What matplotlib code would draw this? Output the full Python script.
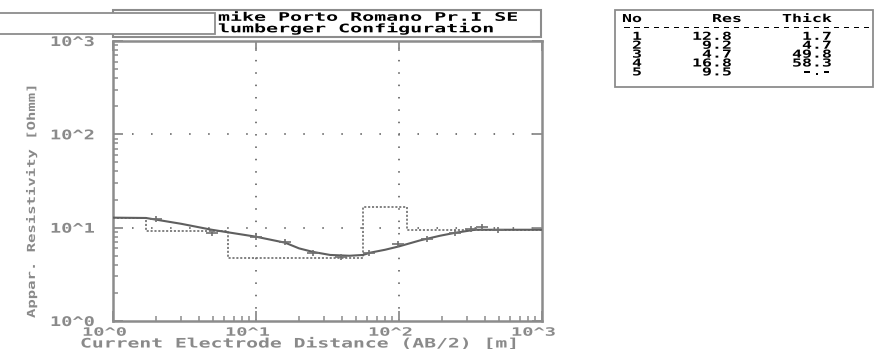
import numpy as np
import matplotlib
matplotlib.use("Agg")
import matplotlib.pyplot as plt
from matplotlib.patches import Rectangle
from matplotlib.path import Path
from matplotlib.transforms import Affine2D, ScaledTranslation
from matplotlib import patheffects

# measured sounding (AB/2 [m], apparent resistivity)
ab2_meas = [2.0, 4.9, 10, 16, 25, 39, 62, 98, 157, 246, 317, 380, 490]
rho_meas = [12.5, 8.8, 8.0, 7.1, 5.4, 4.8, 5.4, 6.7, 7.6, 8.8, 9.7, 10.2, 9.5]

# fitted curve
ab2_fit = [1.0, 1.7, 3.0, 4.9, 10, 16, 20, 25, 33, 45, 56, 63, 80, 100, 140, 194, 246, 340, 500, 1000]
rho_fit = [12.8, 12.7, 11.0, 9.5, 8.0, 6.9, 6.0, 5.5, 5.1, 5.0, 5.1, 5.4, 5.8, 6.3, 7.3, 8.2, 8.8, 9.5, 9.5, 9.5]

# layered model
layer_no = [1, 2, 3, 4, 5]
layer_res = [12.8, 9.2, 4.7, 16.8, 9.5]
layer_thick = [1.7, 4.7, 49.8, 58.3]

title_lines = ["mike Porto Romano Pr.I SE", "lumberger Configuration"]
xlabel = "Current Electrode Distance (AB/2) [m]"
ylabel = "Appar. Resistivity [Ohmm]"
dec_labels = ["10^0", "10^1", "10^2", "10^3"]

W, H = 875, 349
GRAY = "#8c8c8c"
TGRAY = "#8a8a8a"
MONO = "DejaVu Sans Mono"
plt.rcParams['lines.scale_dashes'] = False


class Stretch(patheffects.AbstractPathEffect):
    # old plotter font is much wider than it is tall
    def __init__(self, sx):
        super().__init__()
        self.sx = sx

    def draw_path(self, renderer, gc, tpath, affine, rgbFace=None):
        renderer.draw_path(gc, tpath, Affine2D().scale(self.sx, 1.0) + affine, rgbFace)


def fx(px):
    return px / W


def fy(py):
    return 1 - py / H


fig = plt.figure(figsize=(W / 100, H / 100), dpi=100)
ax = fig.add_axes([fx(113), fy(321), fx(542) - fx(113), fy(41) - fy(321)])
ax.set_xscale("log")
ax.set_yscale("log")
ax.set_xlim(1, 1000)
ax.set_ylim(1, 1000)

for s in ax.spines.values():
    s.set_color(GRAY)
    s.set_linewidth(1.8)

decades = [1, 10, 100, 1000]
ax.set_xticks(decades)
ax.set_yticks(decades)
ax.set_xticklabels(dec_labels)
ax.set_yticklabels(dec_labels)
ax.tick_params(which="major", direction="in", length=7, width=1.3, color=GRAY,
               top=True, right=True, labelcolor=TGRAY)
ax.tick_params(which="minor", direction="in", length=3.5, width=1.1, color=GRAY)
ax.tick_params(axis="y", pad=45.4, labelsize=9.6)
ax.tick_params(axis="x", pad=3.4, labelsize=8.3)
off = ScaledTranslation(-0.31, 0, fig.dpi_scale_trans)
for lab in ax.get_xticklabels():
    lab.set_fontfamily(MONO)
    lab.set_fontweight("bold")
    lab.set_ha("left")
    lab.set_transform(lab.get_transform() + off)
    lab.set_path_effects([Stretch(1.62)])
for lab in ax.get_yticklabels():
    lab.set_fontfamily(MONO)
    lab.set_fontweight("bold")
    lab.set_ha("left")
    lab.set_path_effects([Stretch(1.4)])

# dotted decade grid
for d in [10, 100]:
    ax.axvline(d, color="#777777", lw=1.4, linestyle=(0, (1.1, 7.8)), zorder=1)
    ax.axhline(d, color="#777777", lw=1.4, linestyle=(0, (1.1, 12.6)), zorder=1)

# model
edges = np.concatenate([[1], np.cumsum(layer_thick), [1000]])
ax.stairs(layer_res, edges, baseline=None, color="#777777", lw=1.3,
          linestyle=(0, (1.5, 1.3)), zorder=2)
# fit curve
ax.plot(ab2_fit, rho_fit, color="#5f5f5f", lw=1.5, zorder=3)
# measured points, flat cross
cross = Path([(-1, 0), (1, 0), (0, -0.5), (0, 0.5)],
             [Path.MOVETO, Path.LINETO, Path.MOVETO, Path.LINETO])
ax.plot(ab2_meas, rho_meas, ls="none", marker=cross, ms=9, mew=1.2, color="#707070", zorder=4)

# axis labels
fig.text(fx(80), fy(347.5), xlabel, ha="left", va="baseline", color=TGRAY,
         fontfamily=MONO, fontweight="bold", fontsize=9.4, path_effects=[Stretch(1.51)])
fig.text(fx(32), fy(318), ylabel, ha="center", va="bottom", rotation=90, color=TGRAY,
         fontfamily=MONO, fontweight="bold", fontsize=7.9, path_effects=[Stretch(1.42)])

# title box
fig.add_artist(Rectangle((fx(113), fy(37)), fx(541) - fx(113), fy(10) - fy(37),
                         transform=fig.transFigure, fill=False, ec=GRAY, lw=1.5))
fig.add_artist(Rectangle((fx(-5), fy(34)), fx(215) - fx(-5), fy(13) - fy(34),
                         transform=fig.transFigure, fc="white", ec=GRAY, lw=1.3))
for line, base in zip(title_lines, [20.8, 32.3]):
    fig.text(fx(218), fy(base), line, ha="left", va="baseline", color="black",
             fontfamily=MONO, fontweight="bold", fontsize=8.5, path_effects=[Stretch(1.69)])

# parameter table, monospace columns like the original printout
fig.add_artist(Rectangle((fx(615), fy(87)), fx(873) - fx(615), fy(10) - fy(87),
                         transform=fig.transFigure, fill=False, ec=GRAY, lw=1.3))
tkw = dict(color="black", fontfamily=MONO, fontweight="bold", fontsize=7.9,
           ha="left", va="baseline", path_effects=[Stretch(1.51)])
col = 10.0   # character pitch in pixels
x0 = 622
fig.text(fx(x0), fy(22), "No", **tkw)
fig.text(fx(x0 + 9 * col), fy(22), "Res", **tkw)
fig.text(fx(x0 + 16 * col), fy(22), "Thick", **tkw)
fig.text(fx(x0), fy(30.5), "-" * 25, **tkw)
for i, n in enumerate(layer_no):
    base = 39.8 + i * 8.9
    th = "%.1f" % layer_thick[i] if i < len(layer_thick) else "-.-"
    fig.text(fx(x0 + col), fy(base), str(n), **tkw)
    fig.text(fx(x0 + 7 * col), fy(base), "%4.1f" % layer_res[i], **tkw)
    fig.text(fx(x0 + 17 * col), fy(base), "%4s" % th, **tkw)

fig.savefig("out.png", dpi=100)
